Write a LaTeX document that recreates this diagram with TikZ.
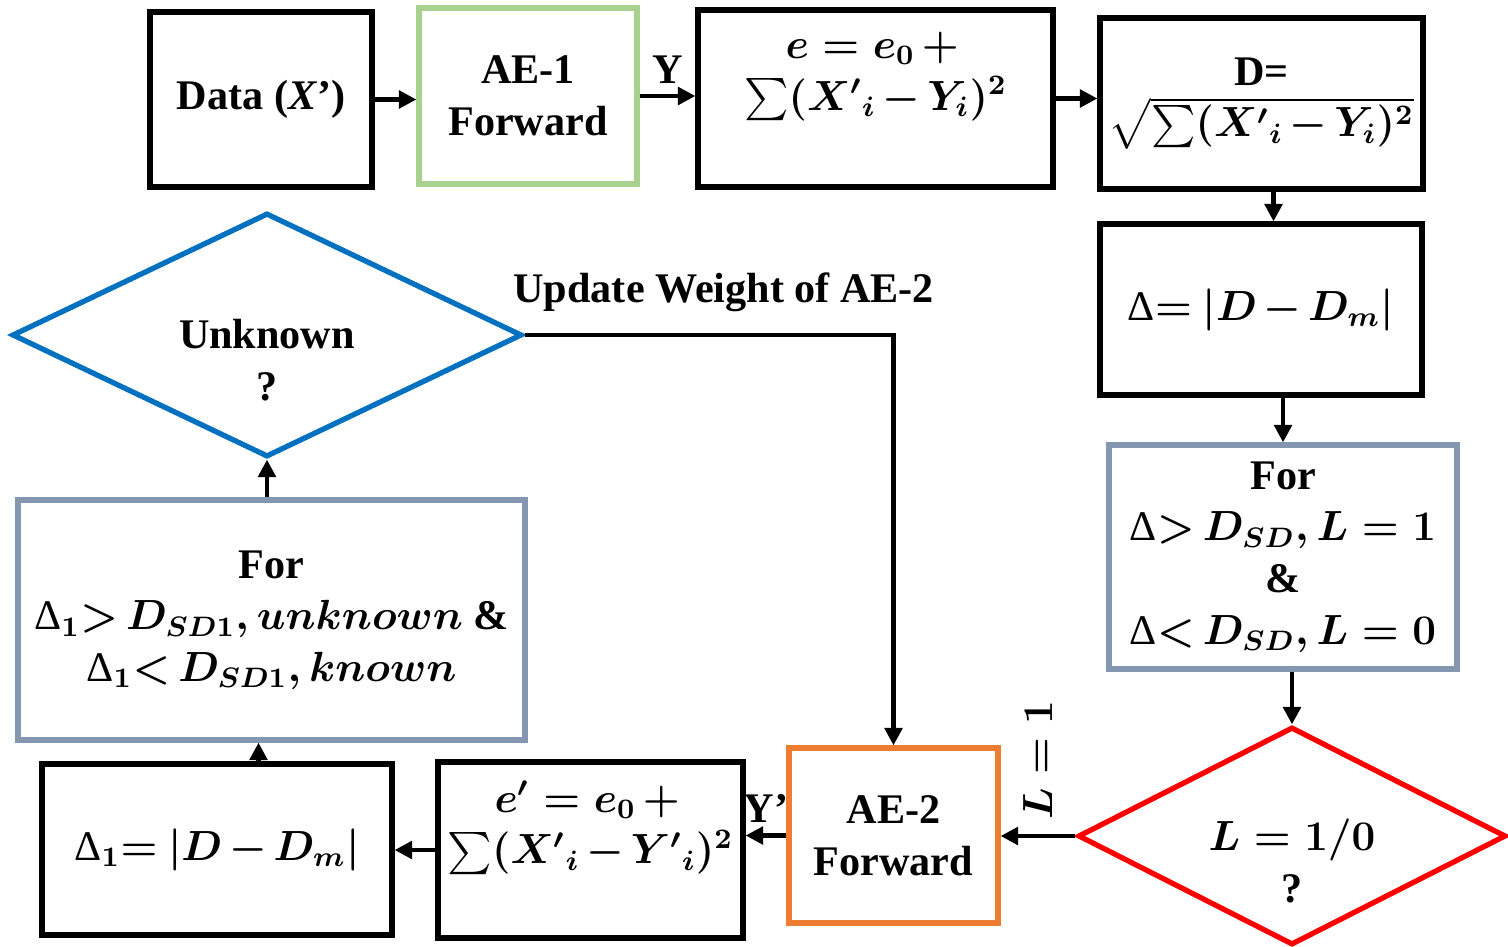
\documentclass[tikz,border=0pt]{standalone}
\usepackage{amsmath}
\usepackage{fontspec}
\setmainfont{Liberation Serif}
\usetikzlibrary{shapes.geometric, arrows.meta, positioning}

\definecolor{aegreen}{HTML}{A9D18E}
\definecolor{aeorange}{HTML}{ED7D31}
\definecolor{slate}{HTML}{8497B0}
\definecolor{unkblue}{HTML}{0070C0}

\newcommand{\dlt}{\text{\mdseries Δ}}
\medmuskip=2.5mu plus 1mu minus 1mu

\begin{document}
\begin{tikzpicture}[
    box/.style      = {rectangle, draw=black, line width=1.5pt, align=center, inner sep=2pt,
                       font=\fontsize{12}{14.7}\selectfont\bfseries\boldmath},
    decision/.style = {diamond, draw=#1, line width=1.5pt, inner sep=0pt},
    lbl/.style      = {font=\fontsize{12}{14.7}\selectfont\bfseries\boldmath, align=center},
    arrow/.style    = {-{Triangle[length=5pt, width=5pt]}, line width=1.2pt},
]
\useasboundingbox (0,0) rectangle (15.08,9.46);

% Top row
\node[box, minimum width=2.22cm, minimum height=1.75cm] (data) at (2.61,8.465) {Data (\textit{X}’)};
\node[box, draw=aegreen, minimum width=2.18cm, minimum height=1.76cm] (ae1) at (5.28,8.50) {AE-1\\Forward};
\node[box, minimum width=3.55cm, minimum height=1.77cm, text depth=0.55cm] (err) at (8.755,8.475)
    {$e = e_0 +{}$\\$\sum({X'}_i - Y_i)^2$};
\node[box, minimum width=3.23cm, minimum height=1.71cm] (dist) at (12.615,8.425)
    {D=\\$\sqrt{\sum({X'}_i - Y_i)^2}$};

% Right column
\node[box, minimum width=3.22cm, minimum height=1.71cm] (delta) at (12.61,6.365) {$\dlt{=}\ |D - D_m|$};
\node[box, draw=slate, minimum width=3.48cm, minimum height=2.24cm] (forR) at (12.83,3.89)
    {For\\$\dlt{>}\,D_{SD}, L = 1$\\\&\\$\dlt{<}\,D_{SD}, L = 0$};
\node[decision=red, minimum width=4.28cm, minimum height=2.18cm,
      label={[lbl, yshift=-0.25cm]center:{$L = 1/0$\\?}}] (decR) at (12.92,1.10) {};

% Bottom row
\node[box, draw=aeorange, minimum width=2.09cm, minimum height=1.75cm] (ae2) at (8.935,1.105) {AE-2\\Forward};
\node[box, minimum width=3.05cm, minimum height=1.76cm, text depth=0.55cm] (err2) at (5.905,0.96)
    {$e' = e_0 +{}$\\$\sum({X'}_i - {Y'}_i)^2$};
\node[box, minimum width=3.50cm, minimum height=1.71cm] (delta1) at (2.17,0.965) {$\dlt_1{=}\ |D - D_m|$};

% Left column
\node[box, draw=slate, minimum width=5.07cm, minimum height=2.40cm] (forL) at (2.715,3.26)
    {For\\$\dlt_1{>}\,D_{SD1}, unknown$ \&\\$\dlt_1{<}\,D_{SD1}, known$};
\node[decision=unkblue, minimum width=5.10cm, minimum height=2.44cm,
      label={[lbl, yshift=-0.25cm]center:{Unknown\\?}}] (decL) at (2.67,6.11) {};

% Arrows
\draw[arrow] (data.east) -- (data.east -| ae1.west);
\draw[arrow] (ae1.east) -- (ae1.east -| err.west) node[lbl, midway, above, inner sep=3pt] (y) {Y};
\draw[arrow] (err.east) -- (err.east -| dist.west);
\draw[arrow] ([xshift=0.12cm]dist.south) -- ([xshift=0.12cm]dist.south |- delta.north);
\draw[arrow] (delta.south -| forR.north) -- (forR.north);
\draw[arrow] (forR.south -| decR.north) -- (decR.north);
\draw[arrow] (decR.west) -- (decR.west -| ae2.east)
    node[lbl, midway, anchor=west, rotate=90, inner sep=4pt] (l1) {$L = 1$};
\draw[arrow] (ae2.west) -- (ae2.west -| err2.east) node[lbl, midway, above, inner sep=3pt] (yp) {Y’};
\draw[arrow] (err2.west) -- (err2.west -| delta1.east);
\draw[arrow] ([xshift=-0.13cm]forL.south |- delta1.north) -- ([xshift=-0.13cm]forL.south);
\draw[arrow] (forL.north -| decL.south) -- (decL.south);
\draw[arrow] (decL.east) -| (ae2.north) node[lbl, pos=0.27, above, inner sep=6pt] (upd) {Update Weight of AE-2};

\end{tikzpicture}
\end{document}
